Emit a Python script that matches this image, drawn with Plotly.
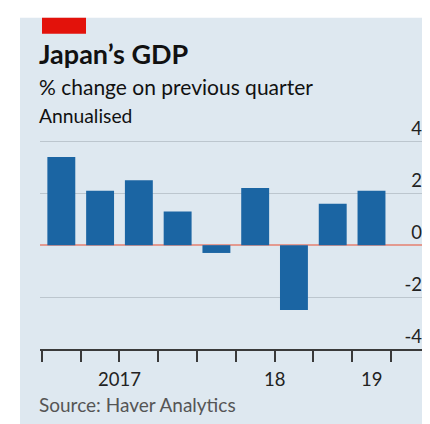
import plotly.graph_objects as go

# ---- data ----
quarters = ["2017 Q1", "2017 Q2", "2017 Q3", "2017 Q4",
            "2018 Q1", "2018 Q2", "2018 Q3", "2018 Q4", "2019 Q1"]
gdp_change = [3.4, 2.1, 2.5, 1.3, -0.3, 2.2, -2.5, 1.6, 2.1]
year_labels = ["2017", "18", "19"]
y_ticks = [-4, -2, 0, 2, 4]
y_tick_text = ["-4", "-2", "0", "2", "4"]

title = "Japan\u2019s GDP"
subtitle = "% change on previous quarter"
subtitle2 = "Annualised"
source = "Source: Haver Analytics"

# ---- layout geometry (screen pixels; page body has an 8px margin) ----
OFF = 8
Y_TOP = 5.4
PX_PER_UNIT = (349.5 - 141) / 8.0
W, H = 430 - OFF, 424 - OFF
L, R, B = 40 - OFF, 5, 74.5
T = 141 - (Y_TOP - 4) * PX_PER_UNIT - OFF
plot_w = W - L - R
plot_h = H - T - B

def px_x(px):
    return (px - OFF - L) / plot_w

def px_y(py):
    return (H - B - (py - OFF)) / plot_h

FONT = "Lato"
BG = "#dee8f0"

fig = go.Figure()
fig.add_trace(go.Bar(
    x=quarters, y=gdp_change,
    marker=dict(color="#1b65a3", line=dict(width=0)),
    width=0.72,
))

# year labels centred under each year's quarters
annotations = []
for yl in year_labels:
    full = yl if len(yl) == 4 else "20" + yl
    idx = [i for i, q in enumerate(quarters) if q.startswith(full)]
    annotations.append(dict(
        x=sum(idx) / len(idx), xref="x", y=px_y(379.5), yref="paper",
        text=yl, showarrow=False, xanchor="center", yanchor="middle",
        font=dict(family=FONT, size=18.5, color="#222222"),
    ))

annotations += [
    dict(x=px_x(37), y=px_y(53), xref="paper", yref="paper", text="<b>" + title + "</b>",
         showarrow=False, xanchor="left", yanchor="middle",
         font=dict(family=FONT, size=27, color="#111111")),
    dict(x=px_x(37), y=px_y(86), xref="paper", yref="paper", text=subtitle,
         showarrow=False, xanchor="left", yanchor="middle",
         font=dict(family=FONT, size=21, color="#111111")),
    dict(x=px_x(37), y=px_y(115), xref="paper", yref="paper", text=subtitle2,
         showarrow=False, xanchor="left", yanchor="middle",
         font=dict(family=FONT, size=19.3, color="#111111")),
    dict(x=px_x(37), y=px_y(405), xref="paper", yref="paper", text=source,
         showarrow=False, xanchor="left", yanchor="middle",
         font=dict(family=FONT, size=19, color="#555555")),
]

shapes = [
    # panel background
    dict(type="rect", xref="paper", yref="paper", layer="below",
         x0=px_x(20), x1=px_x(440), y0=px_y(440), y1=px_y(17),
         fillcolor=BG, line=dict(width=0)),
    # red tag
    dict(type="rect", xref="paper", yref="paper",
         x0=px_x(42), x1=px_x(86), y0=px_y(33), y1=px_y(17),
         fillcolor="#e3120b", line=dict(width=0)),
]

fig.update_layout(
    width=W, height=H,
    margin=dict(l=L, r=R, t=T, b=B, pad=0),
    paper_bgcolor="white",
    plot_bgcolor="rgba(0,0,0,0)",
    showlegend=False,
    annotations=annotations,
    shapes=shapes,
    xaxis=dict(
        type="category",
        range=[-0.55, 9.38],
        tickson="boundaries",
        ticks="outside", ticklen=11, tickwidth=2, tickcolor="#3a3a3a",
        showticklabels=False,
        showgrid=False, zeroline=False,
        showline=True, linecolor="#3a3a3a", linewidth=2,
    ),
    yaxis=dict(
        range=[-4, Y_TOP],
        side="right",
        tickvals=y_ticks, ticktext=y_tick_text,
        ticklabelposition="inside top",
        ticks="", showline=False,
        showgrid=True, gridcolor="#bcc6ce", gridwidth=1,
        zeroline=True, zerolinecolor="#e39a90", zerolinewidth=2,
        tickfont=dict(family=FONT, size=18.5, color="#222222"),
    ),
)

fig.write_html("out.html")
